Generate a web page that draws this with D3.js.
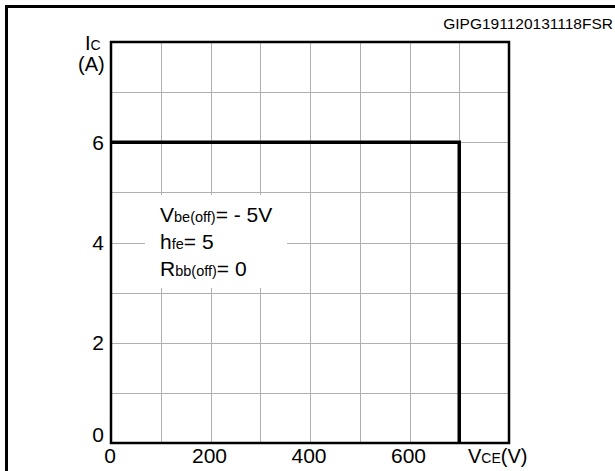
<!DOCTYPE html>
<html>
<head>
<meta charset="utf-8">
<script src="https://cdn.jsdelivr.net/npm/d3@7"></script>
<style>
  body { margin: 0; background: #fff; }
  svg { display: block; font-family: "Liberation Sans", Arial, Helvetica, sans-serif; }
</style>
</head>
<body>
<div id="canvas"></div>
<script>
// data
const vceGrid = [100, 200, 300, 400, 500, 600, 700];
const icGrid = [1, 2, 3, 4, 5, 6, 7];
const xTickLabels = [0, 200, 400, 600];
const yTickLabels = [0, 2, 4, 6];
const soaVce = [0, 700, 700];
const soaIc = [6, 6, 0];
const chartCode = "GIPG191120131118FSR";

const width = 615;
const height = 471;

const svg = d3.select("#canvas")
  .append("svg")
  .attr("width", width)
  .attr("height", height);

// outer frame (runs off the picture on right and bottom)
svg.append("rect")
  .attr("x", 6.5).attr("y", 6.5)
  .attr("width", 700).attr("height", 600)
  .attr("fill", "none")
  .attr("stroke", "#000")
  .attr("stroke-width", 3);

const x = d3.scaleLinear().domain([0, 800]).range([111, 509]);
const y = d3.scaleLinear().domain([0, 8]).range([443, 42]);

// grid
const grid = svg.append("g").attr("stroke", "#b0b0b0").attr("stroke-width", 1);
grid.selectAll(".gx").data(vceGrid).enter().append("line")
  .attr("x1", d => Math.round(x(d)) + 0.5).attr("x2", d => Math.round(x(d)) + 0.5)
  .attr("y1", y(8)).attr("y2", y(0));
grid.selectAll(".gy").data(icGrid).enter().append("line")
  .attr("y1", d => Math.round(y(d)) + 0.5).attr("y2", d => Math.round(y(d)) + 0.5)
  .attr("x1", x(0)).attr("x2", x(800));

// white box behind the conditions text
svg.append("rect")
  .attr("x", 145).attr("y", 195)
  .attr("width", 142).attr("height", 93)
  .attr("fill", "#fff");

// plot border
svg.append("rect")
  .attr("x", x(0)).attr("y", y(8))
  .attr("width", x(800) - x(0)).attr("height", y(0) - y(8))
  .attr("fill", "none")
  .attr("stroke", "#000")
  .attr("stroke-width", 2.5);

// safe operating area boundary
const line = d3.line()
  .x((d, i) => x(soaVce[i]))
  .y((d, i) => y(soaIc[i]));
svg.append("path")
  .attr("d", line(soaVce))
  .attr("fill", "none")
  .attr("stroke", "#000")
  .attr("stroke-width", 3.5)
  .attr("stroke-linejoin", "miter");

// tick labels
svg.selectAll(".xl").data(xTickLabels).enter().append("text")
  .attr("x", d => x(d) - 1)
  .attr("y", 463)
  .attr("text-anchor", "middle")
  .attr("font-size", 21)
  .text(d => d);

svg.selectAll(".yl").data(yTickLabels).enter().append("text")
  .attr("x", 104)
  .attr("y", d => d === 0 ? y(d) - 1 : y(d) + 7.5)
  .attr("text-anchor", "end")
  .attr("font-size", 21)
  .text(d => d);

// axis titles
const ic = svg.append("text").attr("x", 85).attr("y", 50).attr("font-size", 20);
ic.append("tspan").text("I");
ic.append("tspan").attr("font-size", 14).text("C");
svg.append("text").attr("x", 78).attr("y", 71).attr("font-size", 20).text("(A)");

const vce = svg.append("text").attr("x", 468).attr("y", 463).attr("font-size", 20);
vce.append("tspan").text("V");
vce.append("tspan").attr("font-size", 14).text("CE");
vce.append("tspan").text("(V)");

// code
svg.append("text")
  .attr("x", 613).attr("y", 29)
  .attr("text-anchor", "end")
  .attr("font-size", 15.5)
  .text(chartCode);

// conditions
const cond = [
  ["V", "be(off)", "= - 5V", 222],
  ["h", "fe", "= 5", 249],
  ["R", "bb(off)", "= 0", 276]
];
cond.forEach(c => {
  const t = svg.append("text").attr("x", 160).attr("y", c[3]).attr("font-size", 21);
  t.append("tspan").text(c[0]);
  t.append("tspan").attr("font-size", 14.5).text(c[1]);
  t.append("tspan").text(c[2]);
});
</script>
</body>
</html>
